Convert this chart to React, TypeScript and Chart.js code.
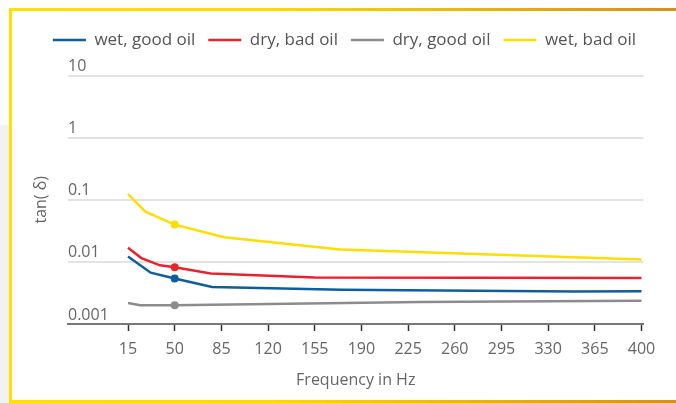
import React, { useEffect, useRef } from 'react';
import { Chart, registerables } from 'chart.js';

Chart.register(...registerables);

const xTicks = [15, 50, 85, 120, 155, 190, 225, 260, 295, 330, 365, 400];
const yTicks = [0.001, 0.01, 0.1, 1, 10];

const seriesNames = ['wet, good oil', 'dry, bad oil', 'dry, good oil', 'wet, bad oil'];
const seriesColors = ['#0B5EA0', '#E8232E', '#8C8C8E', '#FFDD00'];

const wetGoodX = [15, 32, 50, 78, 175, 350, 400];
const wetGoodY = [0.0122, 0.0067, 0.0054, 0.00395, 0.00356, 0.00332, 0.00337];

const dryBadX = [15, 25, 39, 50, 77, 155, 400];
const dryBadY = [0.0169, 0.0115, 0.0088, 0.0082, 0.0065, 0.0056, 0.0055];

const dryGoodX = [15, 24, 50, 234, 400];
const dryGoodY = [0.00217, 0.00201, 0.00201, 0.00225, 0.00236];

const wetBadX = [15, 28, 50, 87, 174, 400];
const wetBadY = [0.123, 0.0643, 0.0398, 0.0249, 0.0158, 0.0109];

const markerX = 50;

const FONT = 'Open Sans';
const TEXT = '#666';

function pts(xs: number[], ys: number[]) {
  return xs.map((x, i) => ({ x, y: ys[i] }));
}

const legendGap = {
  id: 'legendGap',
  beforeInit(chart: any) {
    const legend = chart.legend;
    if (!legend) return;
    const orig = legend.fit;
    legend.fit = function () {
      orig.call(this);
      this.height += 17;
    };
  },
  afterLayout(chart: any) {
    const legend = chart.legend;
    if (!legend) return;
    legend.left += 10;
    legend.right += 10;
  },
};

export default function App() {
  const ref = useRef<HTMLCanvasElement | null>(null);

  useEffect(() => {
    if (!ref.current) return;
    const series = [
      pts(wetGoodX, wetGoodY),
      pts(dryBadX, dryBadY),
      pts(dryGoodX, dryGoodY),
      pts(wetBadX, wetBadY),
    ];
    const chart = new Chart(ref.current, {
      type: 'line',
      data: {
        datasets: series.map((d, i) => ({
          label: seriesNames[i],
          data: d,
          borderColor: seriesColors[i],
          backgroundColor: seriesColors[i],
          borderWidth: 2.5,
          tension: 0,
          fill: false,
          pointRadius: (c: any) => (c.raw && c.raw.x === markerX ? 4 : 0),
          pointBorderWidth: 0,
          pointBackgroundColor: seriesColors[i],
        })),
      },
      options: {
        animation: false,
        responsive: false,
        devicePixelRatio: 1,
        layout: { padding: { left: 13.4, right: 32.5, top: 7.5, bottom: 6.4 } },
        plugins: {
          legend: {
            position: 'top',
            align: 'center',
            labels: {
              usePointStyle: true,
              pointStyle: 'line',
              pointStyleWidth: 33,
              padding: 13,
              color: '#555',
              font: { family: FONT, size: 17 },
              generateLabels: (c: any) =>
                (Chart.defaults.plugins.legend.labels as any).generateLabels(c).map((l: any) => ({
                  ...l,
                  lineWidth: 2.5,
                  strokeStyle: seriesColors[l.datasetIndex],
                  fillStyle: seriesColors[l.datasetIndex],
                })),
            },
          },
          tooltip: { enabled: false },
        },
        scales: {
          x: {
            type: 'linear',
            min: -30,
            max: 401.5,
            bounds: 'data',
            afterBuildTicks: (s: any) => {
              s.ticks = xTicks.map((v) => ({ value: v }));
            },
            ticks: {
              color: TEXT,
              font: { family: FONT, size: 16 },
              padding: 9,
              maxRotation: 0,
              autoSkip: false,
              callback: (v: any) => String(v),
            },
            grid: {
              display: true,
              drawOnChartArea: false,
              drawTicks: true,
              tickLength: 7,
              tickColor: '#333',
              tickWidth: 1.5,
            },
            border: { display: true, color: '#777', width: 2 },
            title: {
              display: true,
              text: 'Frequency in Hz',
              color: TEXT,
              font: { family: FONT, size: 16 },
              padding: { top: 2.2, bottom: 4 },
            },
          },
          y: {
            type: 'logarithmic',
            min: 0.001,
            max: 10,
            afterBuildTicks: (s: any) => {
              s.ticks = yTicks.map((v) => ({ value: v }));
            },
            ticks: {
              mirror: true,
              padding: 0,
              labelOffset: -9,
              color: TEXT,
              font: { family: FONT, size: 16 },
              callback: (v: any) => String(v),
            },
            grid: { color: '#e3e3e3', lineWidth: 2, drawTicks: false },
            border: { display: false },
            title: {
              display: true,
              text: 'tan( δ)',
              color: TEXT,
              font: { family: FONT, size: 16 },
              padding: { top: 6, bottom: 17.4 },
            },
          },
        },
      } as any,
      plugins: [legendGap as any],
    });
    return () => chart.destroy();
  }, []);

  return (
    <>
      <div
        style={{
          position: 'fixed',
          left: 0,
          top: 125,
          width: 9,
          height: 278,
          background: '#f2f2f2',
        }}
      />
      <div
        style={{
          position: 'fixed',
          left: 9,
          top: 8,
          width: 667,
          height: 395,
          boxSizing: 'border-box',
          borderStyle: 'solid',
          borderWidth: '3px 0 3px 3px',
          borderImage: 'linear-gradient(to right, #FFE000, #FFD800 40%, #D58F1F) 1',
          background: '#fff',
        }}
      >
        <canvas ref={ref} width={664} height={389} style={{ display: 'block', width: 664, height: 389 }} />
      </div>
    </>
  );
}
